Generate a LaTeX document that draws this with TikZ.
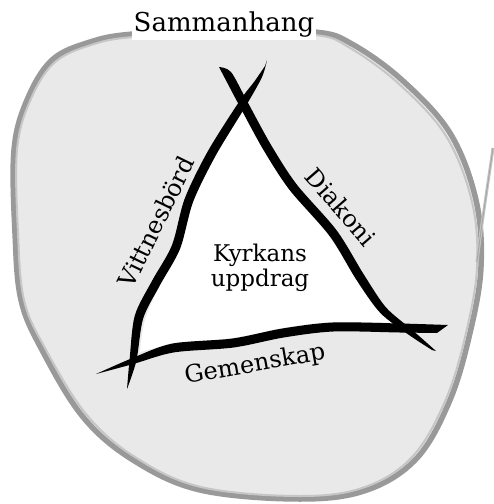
\documentclass[tikz,border=0pt]{standalone}
\usepackage{fontspec}
\setmainfont{DejaVu Serif}
\begin{document}
\begin{tikzpicture}[x=1pt,y=-1pt,
  brush/.style={fill=black},
  lbl/.style={inner sep=0pt, font=\fontsize{24}{26}\selectfont},
  rim/.style={line width=5.5pt, draw=gray!80},
  rimlight/.style={line width=2pt, draw=gray!45}]
\useasboundingbox (0,0) rectangle (494,504);
% blob
\filldraw[fill=gray!17, rim] plot[smooth cycle, tension=0.6] coordinates {
 (315,32) (352,44) (402,80) (450,133) (476,200) (481,267) (470,333) (450,400)
 (417,458) (367,490) (300,499) (200,490) (133,460) (83,417) (42,350) (21,300)
 (15,233) (14,150) (27,100) (52,60) (90,42) (133,34) (224,30)};
\draw[rimlight] plot[smooth cycle, tension=0.6] coordinates {
 (315,35) (350,48) (399,84) (446,136) (472,202) (477,267) (466,333) (446,399)
 (413,456) (365,487) (300,496) (201,487) (135,457) (86,414) (45,348) (24,300)
 (18,233) (17,150) (30,101) (54,63) (91,45) (133,37) (224,33)};
\coordinate (t1) at (493,148);
\coordinate (t2) at (477,262);
\draw[gray!45, line width=3pt] (t1) .. controls (487,190) and (481,228) .. (t2);
\draw[gray!70, line width=1pt] (t1) .. controls (487,190) and (481,228) .. (t2);
% triangle interior
\fill[white] plot[smooth, tension=0.6] coordinates {(243,110) (212,160) (190,207) (178,250) (160,285) (145,320) (140,352)}
  -- plot[smooth, tension=0.6] coordinates {(173,343) (233,338) (283,328) (333,322) (400,323)}
  -- plot[smooth, tension=0.6] coordinates {(405,325) (380,306) (355,275) (328,235) (290,190) (264,150) (243,110)} -- cycle;
% brush strokes (tapered)
\fill[brush] plot[smooth, tension=0.5] coordinates {(127,389) (136.4,360.6) (143.2,318.4) (160.0,285.1) (180.1,248.7) (193.2,201.6) (215.9,155.2) (246.4,105.0) (262,77) (267,60)}
  -- plot[smooth, tension=0.5] coordinates {(265,66) (254,82) (239.6,101.0) (208.1,150.8) (184.8,198.4) (171.9,245.3) (152.0,280.9) (134.8,315.6) (129.6,359.4) (127,389)} -- cycle;
\fill[brush] plot[smooth, tension=0.5] coordinates {(219,67) (231,72) (246.8,100.6) (270.9,144.7) (296.6,184.3) (336.6,230.3) (363.8,274.5) (385.9,307.3) (411.8,329.6) (436,351)}
  -- plot[smooth, tension=0.5] coordinates {(432,350) (408.2,334.4) (380.1,312.7) (356.2,279.5) (329.4,235.7) (289.4,189.7) (263.1,149.3) (239.2,105.4) (219,67)} -- cycle;
\fill[brush] plot[smooth, tension=0.5] coordinates {(96,374) (132.1,358.2) (172.1,343.6) (232.4,338.5) (282.3,328.5) (332.7,322.5) (400,323.5) (448,325)}
  -- plot[smooth, tension=0.5] coordinates {(437,333) (400,332.5) (333.3,331.5) (283.7,337.5) (233.6,347.5) (173.9,352.4) (133.9,363.8) (96,374)} -- cycle;
% labels
\node[lbl, fill=white, inner sep=2pt, font=\fontsize{26}{28}\selectfont] (sam) at (224,25) {Sammanhang};
\node[lbl, rotate=64] (vit) at (156,222) {Vittnesbörd};
\node[lbl, rotate=-49] (dia) at (341,207) {Diakoni};
\node[lbl, rotate=10] (gem) at (255,365) {Gemenskap};
\node[lbl, align=center, font=\fontsize{23}{25}\selectfont] (kyr) at (260,268) {Kyrkans\\uppdrag};
\end{tikzpicture}
\end{document}
